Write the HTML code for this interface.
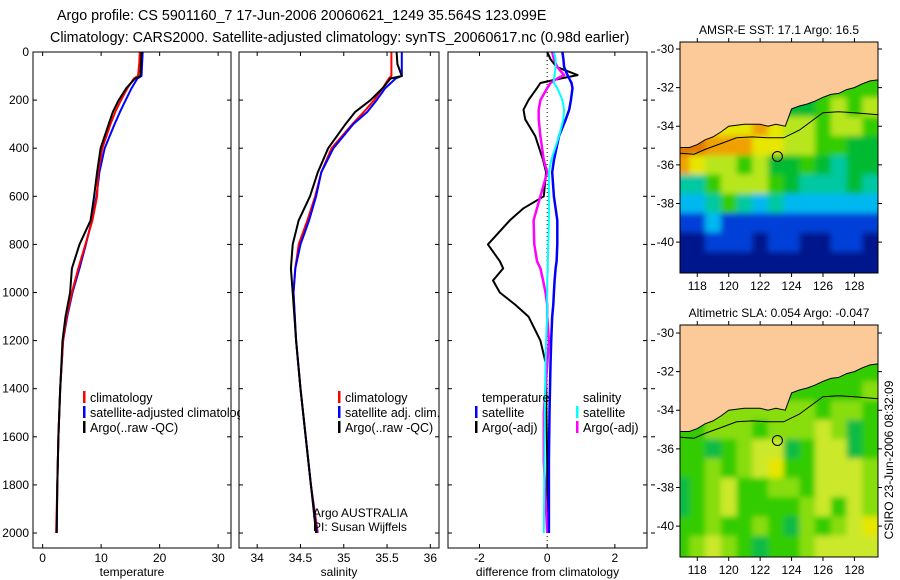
<!DOCTYPE html>
<html><head><meta charset="utf-8"><style>
html,body{margin:0;padding:0;background:#fff;}
svg{display:block;font-family:"Liberation Sans",sans-serif;}
</style></head><body>
<svg id="fig" width="900" height="580" viewBox="0 0 900 580" xmlns="http://www.w3.org/2000/svg">
<defs><filter id="blur" x="-5%" y="-5%" width="110%" height="110%"><feGaussianBlur stdDeviation="3"/></filter></defs>
<rect width="900" height="580" fill="#fff"/>
<text x="57" y="20" font-size="14.3">Argo profile: CS 5901160_7 17-Jun-2006 20060621_1249 35.564S 123.099E</text>
<text x="50" y="42" font-size="14.3">Climatology: CARS2000. Satellite-adjusted climatology: synTS_20060617.nc (0.98d earlier)</text>
<g id="profiles"></g>
<g id="maps"></g>
<text transform="translate(893,460) rotate(-90)" text-anchor="middle" font-size="12">CSIRO 23-Jun-2006 08:32:09</text>
</svg>
<script>
// ---- profile data ----
const depthTicks = [0,200,400,600,800,1000,1200,1400,1600,1800,2000];
const tempTicks = [0,10,20,30];
const salTicks = [34,34.5,35,35.5,36];
const diffTicks = [-2,0,2];

const tDepth = [0,50,100,110,150,200,250,300,400,500,600,700,800,900,1000,1100,1200,1400,1600,1800,2000];
const tArgo = [16.9,16.8,16.7,15.8,14.3,13.0,12.0,11.3,9.9,9.3,8.8,8.2,6.3,5.0,4.7,3.9,3.4,3.0,2.7,2.5,2.4];
const tClim = [16.6,16.5,16.3,15.6,14.5,13.4,12.4,11.6,10.2,9.5,9.3,8.5,7.3,6.1,5.0,4.1,3.5,3.0,2.7,2.5,2.3];
const tSat  = [17.1,17.0,16.9,16.2,15.2,14.2,13.2,12.3,10.6,9.7,9.2,8.4,7.4,6.3,5.1,4.2,3.5,3.0,2.7,2.5,2.4];

const sDepth = [0,50,100,110,150,200,250,300,400,500,600,700,800,900,1000,1200,1400,1600,1800,2000];
const sArgo = [35.61,35.62,35.67,35.54,35.45,35.31,35.13,35.02,34.82,34.70,34.61,34.48,34.41,34.39,34.41,34.45,34.50,34.56,34.62,34.68];
const sClim = [35.55,35.55,35.55,35.52,35.45,35.35,35.23,35.10,34.86,34.74,34.67,34.58,34.48,34.44,34.42,34.45,34.50,34.56,34.62,34.70];
const sSat  = [35.67,35.67,35.67,35.60,35.48,35.38,35.27,35.11,34.88,34.74,34.68,34.60,34.50,34.44,34.42,34.45,34.50,34.56,34.62,34.69];

const dDepth = [0,30,62,96,110,129,150,200,240,280,350,450,500,600,650,700,800,870,900,950,1000,1050,1100,1200,1300,1500,1700,2000];
const dTArgo = [0,0.1,0.28,0.9,0.4,-0.2,-0.3,-0.55,-0.7,-0.65,-0.35,-0.12,-0.03,-0.1,-0.7,-1.1,-1.75,-1.4,-1.3,-1.6,-1.4,-0.95,-0.55,-0.2,-0.03,-0.02,0,0];
const dTSat  = [0.45,0.48,0.5,0.6,0.65,0.72,0.75,0.7,0.65,0.55,0.35,0.2,0.15,0.2,0.25,0.3,0.3,0.28,0.25,0.22,0.2,0.18,0.15,0.12,0.1,0.07,0.05,0.05];
const dSSat  = [0.2,0.25,0.25,0.22,0.2,0.2,0.3,0.45,0.5,0.48,0.35,0.12,0.05,0.05,0.05,0.05,0.03,0.02,0.02,0,0,0,0,-0.03,-0.05,-0.07,-0.08,-0.1];
const dSArgo = [0.15,0.2,0.3,0.5,0.3,0.1,0,-0.2,-0.25,-0.25,-0.2,-0.1,0,-0.2,-0.3,-0.4,-0.38,-0.3,-0.2,-0.12,-0.05,0,0,0.05,0,-0.1,-0.1,0];

// ---- map data ----
const mapLonTicks = [118,120,122,124,126,128];
const mapLatTicks = [-30,-32,-34,-36,-38,-40];
const coastLon = [116.9,117.5,118,118.5,119,119.5,120,121,122,122.5,123,123.6,124,124.5,125,125.5,126,126.5,127,127.5,128,128.5,129,129.5];
const coastLat = [-35.1,-35.1,-34.95,-34.7,-34.55,-34.3,-34.0,-33.9,-33.9,-34.0,-33.9,-34.0,-33.1,-32.95,-32.85,-32.7,-32.5,-32.35,-32.3,-32.1,-32.0,-31.8,-31.65,-31.6];
const contourLon = [116.9,117.8,118.5,119.5,120.5,121.5,122.5,123.5,124.5,125.5,126,127,128,129.5];
const contourLat = [-35.4,-35.45,-35.2,-34.9,-34.6,-34.55,-34.6,-34.6,-34.2,-33.6,-33.3,-33.25,-33.3,-33.4];
const sstRows = [
 "ggggggggggggg","ggggggggggggg","ggggggggggggg","gggggggGGgYgY",
 "yyyyyoyYYgYYg","OOoooyyYYggGG","oyYYgYGGgGtGG","ttgYYYgGtttGt",
 "cctgtctcccccc","bbcbbbbbbbbbb","nnbbbnbbnnbbn","nnnnnnnnnnnnn"];
const slaRows = [
 "ggggggggggggg","ggggggggggggg","ggggggggggggg","gggglgggggggl",
 "lllllllllgllg","gglllglllylGg","ggGglyyGgyyGg","gglglyYggyyyl",
 "Gglyggllgyyyl","Gglygggglygyl","gglgglgGlglyY","glylgGgglyyyy"];
const sstPalette = {o:"#f0a000",O:"#e07800",y:"#e6e600",Y:"#b8e61a",g:"#33cc00",G:"#00bb33",t:"#00c8a0",c:"#00b8f0",b:"#0040d8",n:"#00168c"};
const slaPalette = {g:"#33cc00",l:"#88dd11",y:"#cce82a",Y:"#e6e600",G:"#11bb44"};
const argoLon = 123.099, argoLat = -35.564;

const NS="http://www.w3.org/2000/svg";
function mk(tag, attrs, parent, txt){const e=document.createElementNS(NS,tag);for(const k in attrs)e.setAttribute(k,attrs[k]);if(txt!==undefined)e.textContent=txt;parent.appendChild(e);return e;}

const TOP=52, BOT=548, D0=0, DPX=(533-52)/2000;
const yD = d => TOP + (d-D0)*DPX;
const prof = document.getElementById('profiles');

const panels = [
 {name:'temperature', x0:33, x1:231, v0:-1.65, v1:32.2, ticks:tempTicks, label:'temperature'},
 {name:'salinity', x0:239, x1:439, v0:33.79, v1:36.1, ticks:salTicks, label:'salinity'},
 {name:'difference', x0:448, x1:647, v0:-2.93, v1:2.95, ticks:diffTicks, label:'difference from climatology'}
];
panels.forEach((p,i)=>{ p.x = v => p.x0 + (v-p.v0)/(p.v1-p.v0)*(p.x1-p.x0); });

function drawLine(g,p,vals,depths,color,w,name){
  let d='';
  vals.forEach((v,i)=>{ d += (i?'L':'M') + p.x(v).toFixed(1) + ' ' + yD(depths[i]).toFixed(1); });
  const e = mk('path',{d:d,fill:'none',stroke:color,'stroke-width':w,'stroke-linejoin':'round'},g);
  
  
}

panels.forEach((p,pi)=>{
  const g = mk('g',{},prof);
  
  
  const cp = mk('clipPath',{id:'cp'+pi},g);
  mk('rect',{x:p.x0,y:TOP,width:p.x1-p.x0,height:BOT-TOP},cp);
  depthTicks.forEach(d=>{
    const y=yD(d);
    mk('line',{x1:p.x0,y1:y,x2:p.x0+4,y2:y,stroke:'#000'},g);
    mk('line',{x1:p.x1,y1:y,x2:p.x1-4,y2:y,stroke:'#000'},g);
    if(pi===2) mk('line',{x1:p.x1+4,y1:y,x2:p.x1+8,y2:y,stroke:'#000'},g);
    if(pi===0){ const t=mk('text',{x:p.x0-4,y:y+4,'text-anchor':'end','font-size':12},g,String(d));
        }
  });
  p.ticks.forEach(v=>{
    const x=p.x(v);
    mk('line',{x1:x,y1:TOP,x2:x,y2:TOP+4,stroke:'#000'},g);
    mk('line',{x1:x,y1:BOT,x2:x,y2:BOT-4,stroke:'#000'},g);
    const t=mk('text',{x:x,y:BOT+14,'text-anchor':'middle','font-size':12},g,String(v));
     
  });
  const xl=mk('text',{x:(p.x0+p.x1)/2,y:BOT+28,'text-anchor':'middle','font-size':12},g,p.label);
  
  
  const lines = mk('g',{'clip-path':'url(#cp'+pi+')'},g);
  if(pi===0){
    drawLine(lines,p,tSat,tDepth,'#0000ff',2,'temp-satellite-line');
    drawLine(lines,p,tClim,tDepth,'#ff0000',2,'temp-climatology-line');
    drawLine(lines,p,tArgo,tDepth,'#000',2,'temp-argo-line');
  } else if(pi===1){
    drawLine(lines,p,sClim,sDepth,'#ff0000',2,'sal-climatology-line');
    drawLine(lines,p,sSat,sDepth,'#0000ff',2,'sal-satellite-line');
    drawLine(lines,p,sArgo,sDepth,'#000',2,'sal-argo-line');
  } else {
    mk('line',{x1:p.x(0),y1:TOP,x2:p.x(0),y2:BOT,stroke:'#000','stroke-dasharray':'1 3'},lines);
    drawLine(lines,p,dTArgo,dDepth,'#000',2,'diff-temp-argo-line');
    drawLine(lines,p,dSArgo,dDepth,'#ff00ff',2.5,'diff-sal-argo-line');
    drawLine(lines,p,dTSat,dDepth,'#0000ff',2.5,'diff-temp-satellite-line');
    drawLine(lines,p,dSSat,dDepth,'#00ffff',2,'diff-sal-satellite-line');
  }
  mk('rect',{x:p.x0,y:TOP,width:p.x1-p.x0,height:BOT-TOP,fill:'none',stroke:'#000'},g);
});

function legendItem(g,bx,y,color,label,name,clip){
  if(color) mk('rect',{x:bx,y:y-6,width:2.5,height:12,fill:color},g);
  const t=mk('text',{x:bx+7,y:y+5,'font-size':12.5},g,label);
  if(clip) t.setAttribute('clip-path',clip);
  
  
}
const lg1=mk('g',{},prof);
 
const lcp=mk('clipPath',{id:'lcp'},lg1); mk('rect',{x:33,y:380,width:207,height:60},lcp);
legendItem(lg1,83,397,'#ff0000','climatology','legend-climatology');
legendItem(lg1,83,412,'#0000ff','satellite-adjusted climatology','legend-satellite-adjusted','url(#lcp)');
legendItem(lg1,83,427,'#000','Argo(..raw -QC)','legend-argo-raw');
const lg2=mk('g',{},prof);
 
legendItem(lg2,338,397,'#ff0000','climatology','legend-climatology');
legendItem(lg2,338,412,'#0000ff','satellite adj. clim.','legend-satellite-adj');
legendItem(lg2,338,427,'#000','Argo(..raw -QC)','legend-argo-raw');
const lg3=mk('g',{},prof);
 
legendItem(lg3,475,397,null,'temperature','legend-temperature-header');
legendItem(lg3,475,412,'#0000ff','satellite','legend-temp-satellite');
legendItem(lg3,475,427,'#000','Argo(-adj)','legend-temp-argo');
legendItem(lg3,576,397,null,'salinity','legend-salinity-header');
legendItem(lg3,576,412,'#00ffff','satellite','legend-sal-satellite');
legendItem(lg3,576,427,'#ff00ff','Argo(-adj)','legend-sal-argo');
const a1=mk('text',{x:313,y:517,'font-size':12},prof,'Argo AUSTRALIA');
 
const a2=mk('text',{x:313,y:531,'font-size':12},prof,'PI: Susan Wijffels');
 

// ---- maps ----
const mapsG=document.getElementById('maps');
function drawMap(top, bottom, rows, palette, title, name, lat30y){
  const L=680, R=878, LON0=116.9, LON1=129.5;
  const ppd=(bottom-lat30y)/11.6;
  const mx = lon => L + (lon-LON0)/(LON1-LON0)*(R-L);
  const my = lat => lat30y + (-30-lat)*ppd;
  const g=mk('g',{},mapsG);
  
  
  const cid='mc'+name;
  const cp=mk('clipPath',{id:cid},g); mk('rect',{x:L,y:top,width:R-L,height:bottom-top},cp);
  const clipG=mk('g',{'clip-path':'url(#'+cid+')'},g);
  const cells=mk('g',{filter:'url(#blur)'},clipG);
  const nr=rows.length;
  for(let ri=-1; ri<=nr; ri++){
    const row=rows[Math.max(0,Math.min(nr-1,ri))];
    const latTop=-29.5-ri;
    for(let ci=-1;ci<=row.length;ci++){
      const ch=row[Math.max(0,Math.min(row.length-1,ci))];
      const lonL=116.5+ci;
      const x=mx(lonL), y=my(latTop);
      const c=mk('rect',{x:x.toFixed(1),y:y.toFixed(1),width:(mx(lonL+1)-x+0.5).toFixed(1),height:(my(latTop-1)-y+0.5).toFixed(1),fill:palette[ch]},cells);
      
      
    }
  }
  let land='M'+mx(LON0-1)+' '+(top-5);
  land+=' L'+mx(LON0-1)+' '+my(coastLat[0]).toFixed(1);
  coastLon.forEach((lo,i)=>{ land+=' L'+mx(lo).toFixed(1)+' '+my(coastLat[i]).toFixed(1); });
  land+=' L'+(R+5)+' '+my(-31.6).toFixed(1)+' L'+(R+5)+' '+(top-5)+' Z';
  const lp=mk('path',{d:land,fill:'#fcc999'},clipG);
   
  let cst=''; coastLon.forEach((lo,i)=>{ cst+=(i?'L':'M')+mx(lo).toFixed(1)+' '+my(coastLat[i]).toFixed(1); });
  mk('path',{d:cst,fill:'none',stroke:'#000','stroke-width':1},clipG);
  let ct=''; contourLon.forEach((lo,i)=>{ ct+=(i?'L':'M')+mx(lo).toFixed(1)+' '+my(contourLat[i]).toFixed(1); });
  const cl=mk('path',{d:ct,fill:'none',stroke:'#000','stroke-width':1},clipG);
   
  const dot=mk('circle',{cx:mx(argoLon),cy:my(argoLat),r:5,fill:'none',stroke:'#000','stroke-width':1},g);
   
  mapLonTicks.forEach(lo=>{
    const x=mx(lo);
    mk('line',{x1:x,y1:top,x2:x,y2:top-4,stroke:'#000'},g);
    mk('line',{x1:x,y1:bottom,x2:x,y2:bottom+4,stroke:'#000'},g);
    const t=mk('text',{x:x,y:bottom+17,'text-anchor':'middle','font-size':12},g,String(lo));
     
  });
  mapLatTicks.forEach(la=>{
    const y=my(la);
    mk('line',{x1:L,y1:y,x2:L-4,y2:y,stroke:'#000'},g);
    mk('line',{x1:R,y1:y,x2:R+4,y2:y,stroke:'#000'},g);
    const t=mk('text',{x:L-6,y:y+4,'text-anchor':'end','font-size':12},g,String(la));
     
  });
  mk('rect',{x:L,y:top,width:R-L,height:bottom-top,fill:'none',stroke:'#000'},g);
  const tt=mk('text',{x:(L+R)/2,y:top-8,'text-anchor':'middle','font-size':12},g,title);
   
}
drawMap(42,273,sstRows,sstPalette,'AMSR-E SST: 17.1 Argo: 16.5','sst-map',49);
drawMap(325,557,slaRows,slaPalette,'Altimetric SLA: 0.054 Argo: -0.047','sla-map',333);
</script>
</body></html>
